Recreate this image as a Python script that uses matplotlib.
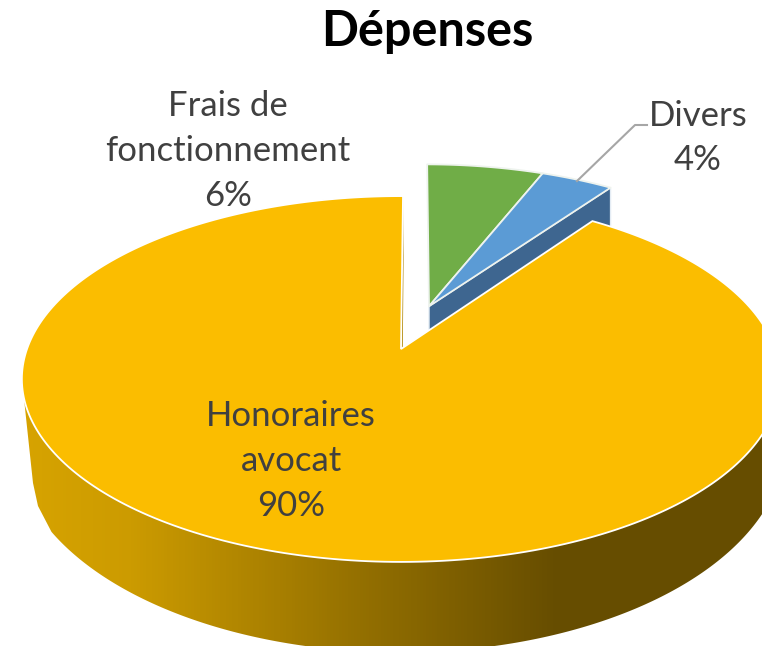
import numpy as np
import matplotlib
matplotlib.use("Agg")
import matplotlib.pyplot as plt
from matplotlib.colors import LinearSegmentedColormap
from matplotlib.patches import Polygon

labels = ["Frais de\nfonctionnement", "Divers", "Honoraires\navocat"]
values = [6.0, 3.75, 90.25]
colors = ["#70ad47", "#5b9bd5", "#fbbd00"]
side_blue = "#3e6690"
grad_pos = [0, 0.17, 0.5, 0.735, 1]
grad_col = ["#d9a500", "#cc9b00", "#8f6c00", "#664d00", "#664d00"]

# perspective of the pie, in pixels
cx, cy, a, b, k = 401, 349, 374, 178, 0.164
depth, sx, sy = 59, 1.016, 1.148
start = 0.36
ex_u, ex_v = 0.078, 0.25


def top(u, v):
    w = 1 + k * v
    return cx + a * u / w, cy - b * v / w


def bottom(u, v):
    w = 1 + k * v
    return cx - 1 + a * sx * u / w, cy + depth - b * sy * v / w


def rim(t1, t2, ox=0, oy=0):
    t = np.radians(np.linspace(t1, t2, 300))
    return ox + np.sin(t), oy + np.cos(t)


edges = start + np.concatenate([[0], np.cumsum(values) * 3.6])

fig = plt.figure(figsize=(7.62, 6.46), dpi=100)
ax = fig.add_axes([0, 0, 1, 1])

# cut face of the blue slice, straight down from the top
r = np.radians(edges[2])
x0, y0 = top(ex_u, ex_v)
x1, y1 = top(ex_u + np.sin(r), ex_v + np.cos(r))
ax.fill([x0, x1, x1, x0], [y0, y1, y1 + 60, y0 + 60], color=side_blue, ec="#e4ecf4", lw=1, zorder=1)

# thin sliver of the cut face next to the gap
r = np.radians(edges[3])
x2, y2 = top(np.sin(r), np.cos(r))
ax.fill([cx, x2, x2 + 0.6, cx + 1.2], [cy, y2, y2 + 60, cy + 60], color="#b08500", lw=0, zorder=2)

# side of the big slice, gradient clipped to the wall outline
tx, ty = top(*rim(99.4, 260.6))
bx, by = bottom(*rim(100, 262))
keep = bx >= 50
# left corner of the wall is rounded off
wall_x = np.r_[tx, 33, 38, bx[keep][::-1]]
wall_y = np.r_[ty, 483, 506, by[keep][::-1]]
wall = Polygon(np.column_stack([wall_x, wall_y]), closed=True,
               transform=ax.transData, fc="none", ec="none")
ax.add_patch(wall)
cmap = LinearSegmentedColormap.from_list("side", list(zip(grad_pos, grad_col)))
img = ax.imshow(np.linspace(0, 1, 762).reshape(1, -1), cmap=cmap, aspect="auto",
                extent=(0, 762, 646, 0), zorder=2)
img.set_clip_path(wall)

# big slice top
u, v = rim(edges[2], edges[3])
x, y = top(np.r_[0, u], np.r_[0, v])
ax.fill(x, y, color=colors[2], ec="white", lw=1.3, zorder=3, joinstyle="miter")

# the two pulled out slices
for i in [0, 1]:
    u, v = rim(edges[i], edges[i + 1], ex_u, ex_v)
    x, y = top(np.r_[ex_u, u], np.r_[ex_v, v])
    ax.fill(x, y, color=colors[i], ec="#eef3ee", lw=1.3, zorder=4, joinstyle="round")

# leader line of Divers
ax.plot([577, 635, 647], [181, 125, 125], color="#a6a6a6", lw=1.5, zorder=5)

ax.set_xlim(0, 762)
ax.set_ylim(646, 0)
ax.axis("off")

font = "Lato"
ax.text(228, 151, f"{labels[0]}\n{values[0]:.0f}%", ha="center", va="center", fontsize=25,
        color="#404040", family=font, linespacing=1.5, zorder=6)
ax.text(698, 138, f"{labels[1]}\n{values[1]:.0f}%", ha="center", va="center", fontsize=25,
        color="#404040", family=font, linespacing=1.5, zorder=6)
ax.text(291, 461, f"{labels[2]}\n{values[2]:.0f}%", ha="center", va="center", fontsize=25,
        color="#404040", family=font, linespacing=1.5, zorder=6)
ax.text(427, 32, "Dépenses", ha="center", va="center", fontsize=35, fontweight="bold",
        color="black", family=font, zorder=6)

fig.savefig("out.png", dpi=100)
